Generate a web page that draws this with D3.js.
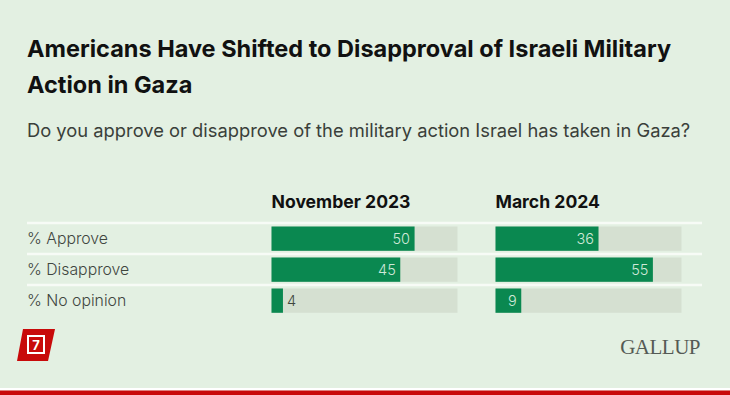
<!DOCTYPE html>
<html>
<head>
<meta charset="utf-8">
<script src="https://cdn.jsdelivr.net/npm/d3@7"></script>
<style>
    html, body { margin: 0; padding: 0; background: #e3f0e2; overflow: hidden; }
    svg { display: block; font-family: Inter, "Noto Sans", sans-serif; }
</style>
</head>
<body>
<div id="chart"></div>
<script>
const title_lines = ["Americans Have Shifted to Disapproval of Israeli Military", "Action in Gaza"];
const subtitle = "Do you approve or disapprove of the military action Israel has taken in Gaza?";
const categories = ["% Approve", "% Disapprove", "% No opinion"];
const periods = ["November 2023", "March 2024"];
const nov_2023 = [50, 45, 4];
const mar_2024 = [36, 55, 9];
const series = [nov_2023, mar_2024];

const bg = "#e3f0e2";
const green = "#0a8850";
const track = "#d5e0d1";
const red = "#c80a0a";
const width = 730, height = 395;

const svg = d3.select("#chart").append("svg").attr("width", width).attr("height", height);
svg.append("rect").attr("width", width).attr("height", height).attr("fill", bg);

svg.selectAll("text.title").data(title_lines).enter().append("text")
    .attr("class", "title")
    .attr("x", 27).attr("y", (d, i) => 56.5 + i * 36)
    .attr("font-size", 23.5).attr("font-weight", 700).attr("fill", "#111")
    .text(d => d);

svg.append("text").attr("x", 27).attr("y", 136.5)
    .attr("font-size", 18.33).attr("fill", "#3a3f3a").text(subtitle);

const y = d3.scaleBand().domain(categories).range([223, 316]).paddingInner(0).paddingOuter(0);
const x = d3.scaleLinear().domain([0, 65]).range([0, 186]);
const panel_x = d3.scaleOrdinal().domain(periods).range([271.5, 495.5]);

// row separators
svg.selectAll("line.sep").data(categories).enter().append("line")
    .attr("class", "sep")
    .attr("x1", 27).attr("x2", 702)
    .attr("y1", d => y(d)).attr("y2", d => y(d))
    .attr("stroke", "#f7fbf6").attr("stroke-width", 2.4);

svg.selectAll("text.cat").data(categories).enter().append("text")
    .attr("class", "cat")
    .attr("x", 27).attr("y", d => y(d) + y.bandwidth() / 2 + 5)
    .attr("font-size", 15.8).attr("font-weight", 300).attr("fill", "#3f463f")
    .text(d => d);

periods.forEach(function (period, p) {
    const g = svg.append("g").attr("transform", "translate(" + panel_x(period) + ",0)");

    g.append("text").attr("x", 0).attr("y", 208)
        .attr("font-size", 17.6).attr("font-weight", 700).attr("fill", "#111")
        .text(period);

    const rows = categories.map((c, i) => ({ cat: c, value: series[p][i] }));

    g.selectAll("rect.track").data(rows).enter().append("rect")
        .attr("class", "track")
        .attr("x", 0).attr("y", d => y(d.cat) + 3.5)
        .attr("width", x(65)).attr("height", 24.3)
        .attr("fill", track);

    g.selectAll("rect.bar").data(rows).enter().append("rect")
        .attr("class", "bar")
        .attr("x", 0).attr("y", d => y(d.cat) + 3.5)
        .attr("width", d => x(d.value)).attr("height", 24.3)
        .attr("fill", green);

    g.selectAll("text.val").data(rows).enter().append("text")
        .attr("class", "val")
        .attr("x", d => d.value < 5 ? x(d.value) + 4 : x(d.value) - 4.5)
        .attr("y", d => y(d.cat) + 20.5)
        .attr("text-anchor", d => d.value < 5 ? "start" : "end")
        .attr("font-size", 14.5).attr("font-weight", 300).attr("fill", d => d.value < 5 ? "#3f463f" : "#cfe8d8")
        .text(d => d.value);
});

// badge
svg.append("path").attr("d", "M23,329 L55,329 L48,361 L17,361 Z").attr("fill", red);
svg.append("rect").attr("x", 28).attr("y", 336).attr("width", 16).attr("height", 17)
    .attr("fill", "none").attr("stroke", "#fff").attr("stroke-width", 2);
svg.append("text").attr("x", 36).attr("y", 349.5).attr("text-anchor", "middle")
    .attr("font-size", 13).attr("font-weight", 700).attr("fill", "#fff").text("7");

// logo
svg.append("text").attr("x", 700).attr("y", 354).attr("text-anchor", "end")
    .attr("font-family", "'Liberation Serif', serif").attr("font-size", 21)
    .attr("letter-spacing", -0.5).attr("fill", "#555a55").text("GALLUP");

// bottom stripe
svg.append("rect").attr("x", 0).attr("y", 388).attr("width", width).attr("height", 2.5).attr("fill", "#fff");
svg.append("rect").attr("x", 0).attr("y", 390.5).attr("width", width).attr("height", 4.5).attr("fill", red);
</script>
</body>
</html>
